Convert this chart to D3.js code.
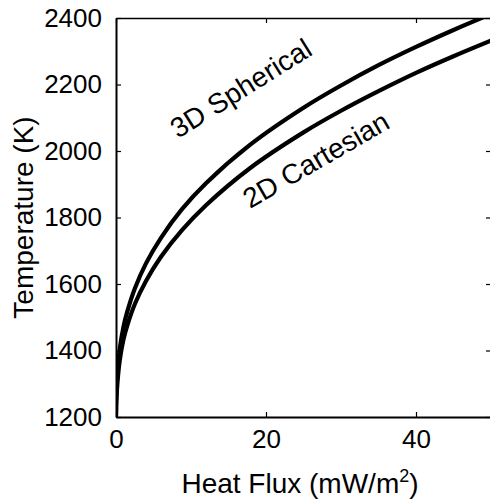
<!DOCTYPE html>
<html>
<head>
<meta charset="utf-8">
<script src="https://cdn.jsdelivr.net/npm/d3@7"></script>
<style>
  body { margin: 0; background: #fff; }
  text { font-family: "Liberation Sans", Arial, Helvetica, sans-serif; fill: #000; }
</style>
</head>
<body>
<div id="chart"></div>
<script>
// values: heat flux (mW/m2) -> temperature (K)
var fluxSph = [0, 0.05, 0.2, 0.5, 1, 1.5, 2.5, 4, 6, 8.8, 12, 17.9, 25, 30, 35, 40, 45, 50];
var tempSph = [1200, 1265, 1335, 1405, 1472, 1517, 1586, 1662, 1739, 1825, 1903, 2019, 2130, 2197, 2258, 2313, 2364, 2412];
var fluxCart = [0, 0.05, 0.2, 0.5, 1, 1.5, 2.5, 4, 6, 8.8, 12, 17.9, 25, 30, 35, 40, 45, 50];
var tempCart = [1200, 1250, 1305, 1370, 1434, 1475, 1539, 1609, 1682, 1762, 1837, 1949, 2056, 2121, 2180, 2235, 2285, 2332];
var xTicks = [0, 20, 40];
var yTicks = [1200, 1400, 1600, 1800, 2000, 2200, 2400];

var W = 490, H = 503;
var margin = {top: 18, left: 116, bottom: 417, right: 491};

var svg = d3.select("#chart").append("svg")
  .attr("width", W)
  .attr("height", H);

var x = d3.scaleLinear().domain([0, 50]).range([margin.left, margin.right]);
var y = d3.scaleLinear().domain([1200, 2400]).range([margin.bottom, margin.top]);

svg.append("defs").append("clipPath").attr("id", "clip")
  .append("rect")
  .attr("x", margin.left).attr("y", margin.top)
  .attr("width", margin.right - margin.left)
  .attr("height", margin.bottom - margin.top);

// curves
var line = d3.line()
  .x(function(d){ return x(d[0]); })
  .y(function(d){ return y(d[1]); })
  .curve(d3.curveCatmullRom.alpha(0.5));

function pairs(xs, ys){
  return xs.map(function(v, i){ return [v, ys[i]]; });
}

svg.append("g").attr("clip-path", "url(#clip)")
  .selectAll("path")
  .data([pairs(fluxSph, tempSph), pairs(fluxCart, tempCart)])
  .enter().append("path")
  .attr("fill", "none")
  .attr("stroke", "#000")
  .attr("stroke-width", 4.2)
  .attr("d", line);

// axes, MATLAB style box with inward ticks
var tl = 5;
var fmt = d3.format("d");
svg.append("g")
  .attr("transform", "translate(0," + margin.bottom + ")")
  .call(d3.axisBottom(x).tickValues(xTicks).tickFormat(fmt).tickSizeInner(-tl).tickSizeOuter(0).tickPadding(13))
  .call(function(g){ g.select(".domain").attr("stroke-width", 2); });

svg.append("g")
  .attr("transform", "translate(0," + margin.top + ")")
  .call(d3.axisTop(x).tickValues(xTicks).tickSizeInner(-tl).tickSizeOuter(0).tickFormat(""))
  .call(function(g){ g.select(".domain").attr("stroke-width", 1.5); });

svg.append("g")
  .attr("transform", "translate(" + margin.left + ",0)")
  .call(d3.axisLeft(y).tickValues(yTicks).tickFormat(fmt).tickSizeInner(-tl).tickSizeOuter(0).tickPadding(14))
  .call(function(g){ g.select(".domain").attr("stroke-width", 2); });

svg.append("g")
  .attr("transform", "translate(" + margin.right + ",0)")
  .call(d3.axisRight(y).tickValues(yTicks).tickSizeInner(-tl).tickSizeOuter(0).tickFormat(""))
  .call(function(g){ g.select(".domain").attr("stroke-width", 1.5); });

svg.selectAll(".tick line").attr("stroke-width", 1.2);
svg.selectAll(".tick text")
  .style("font-size", "26px")
  .style("font-family", "Liberation Sans, Arial, sans-serif");

// axis labels
var xl = svg.append("text")
  .attr("x", 300).attr("y", 493)
  .attr("text-anchor", "middle")
  .style("font-size", "28px")
  .text("Heat Flux (mW/m");
xl.append("tspan").attr("dy", -11).style("font-size", "18px").text("2");
xl.append("tspan").attr("dy", 11).text(")");

svg.append("text")
  .attr("transform", "translate(33," + ((margin.top + margin.bottom) / 2) + ") rotate(-90)")
  .attr("text-anchor", "middle")
  .style("font-size", "28px")
  .text("Temperature (K)");

// curve labels
svg.append("text")
  .attr("transform", "translate(178,139) rotate(-32)")
  .style("font-size", "28px")
  .text("3D Spherical");

svg.append("text")
  .attr("transform", "translate(250,209) rotate(-30)")
  .style("font-size", "28px")
  .text("2D Cartesian");
</script>
</body>
</html>
